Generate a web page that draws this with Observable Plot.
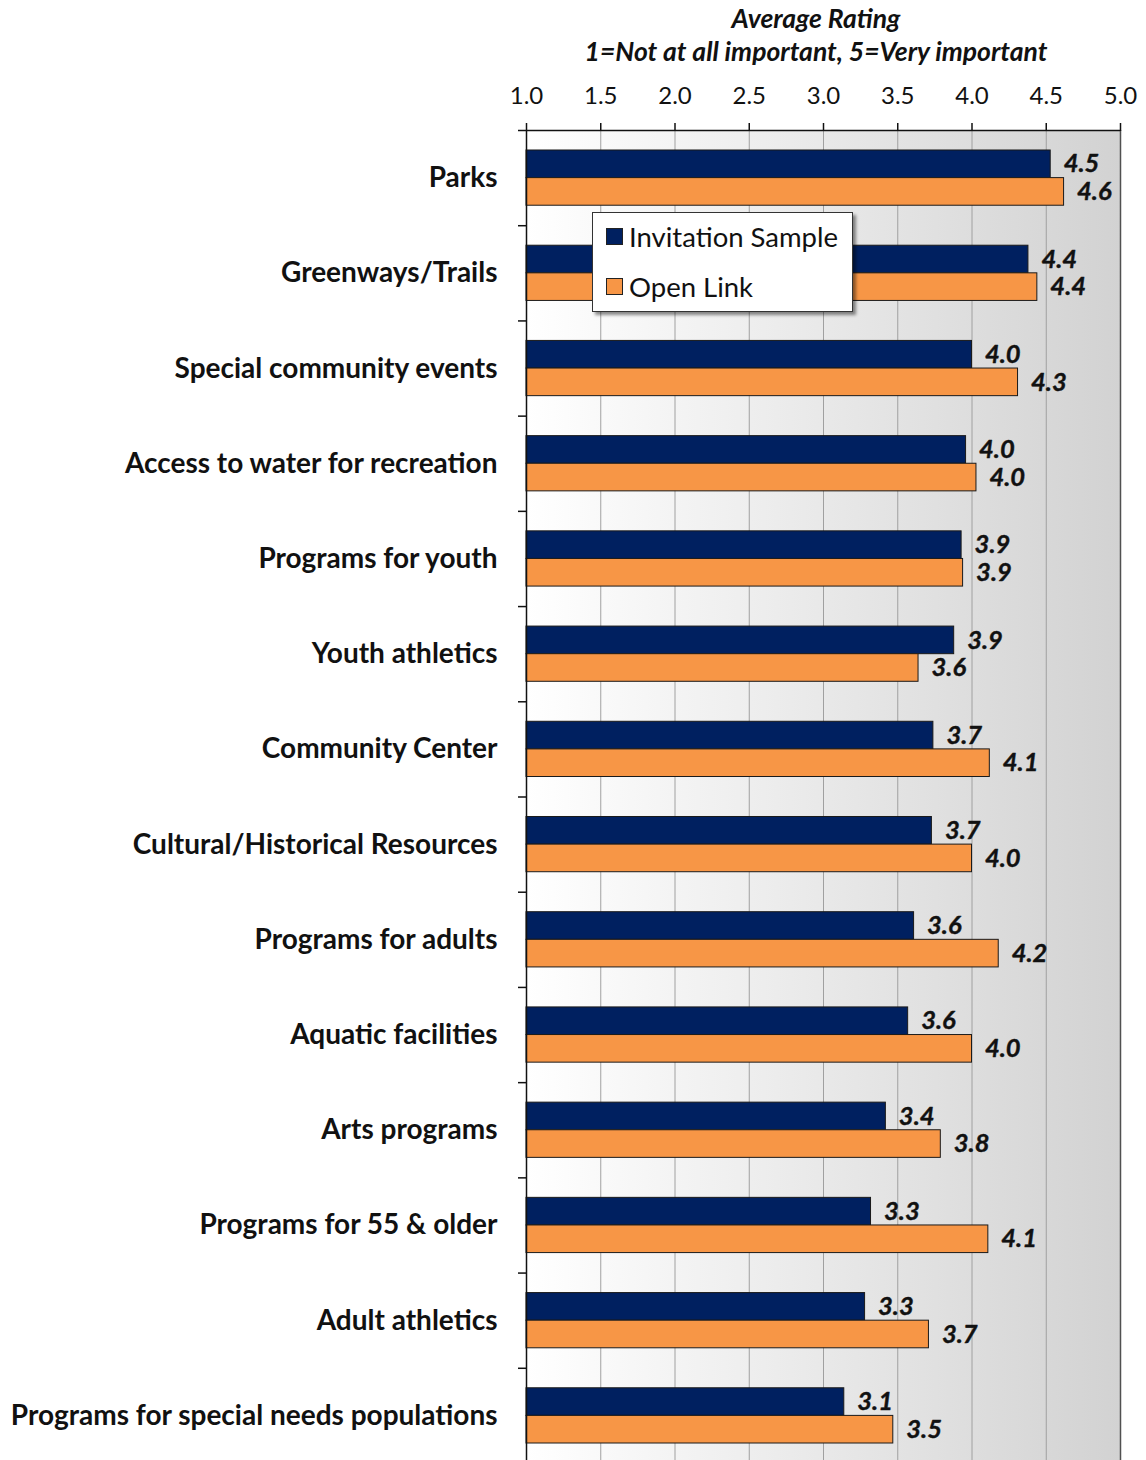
<!DOCTYPE html>
<html>
<head>
<meta charset="utf-8">
<script src="https://cdn.jsdelivr.net/npm/d3@7"></script>
<script src="https://cdn.jsdelivr.net/npm/@observablehq/plot@0.6"></script>
<style>
  html, body { margin: 0; padding: 0; background: #fff; }
  #wrap { position: relative; width: 1146px; height: 1460px; overflow: hidden; font-family: Lato, "Open Sans", sans-serif; }
  #title { position: absolute; left: 516px; width: 600px; top: 2px; text-align: center; font-weight: bold; font-style: italic; font-size: 26.5px; line-height: 33px; color: #111; }
  #legend { position: absolute; left: 592px; top: 212px; width: 259px; height: 98px; background: #fff; border: 1px solid #333; box-shadow: 3px 3px 3px rgba(0,0,0,0.45); font-size: 27.5px; color: #111; }
  .li { position: absolute; left: 13px; display: flex; align-items: center; }
  .sw { width: 17px; height: 17px; border: 1px solid #222; margin-right: 6px; box-sizing: border-box; }
</style>
</head>
<body>
<div id="wrap">
  <div id="chart"></div>
  <div id="title"></div>
  <div id="legend"></div>
</div>
<script>
const categories = [
  "Parks",
  "Greenways/Trails",
  "Special community events",
  "Access to water for recreation",
  "Programs for youth",
  "Youth athletics",
  "Community Center",
  "Cultural/Historical Resources",
  "Programs for adults",
  "Aquatic facilities",
  "Arts programs",
  "Programs for 55 & older",
  "Adult athletics",
  "Programs for special needs populations"
];
const invitationSample = [4.53, 4.38, 4.00, 3.96, 3.93, 3.88, 3.74, 3.73, 3.61, 3.57, 3.42, 3.32, 3.28, 3.14];
const openLink         = [4.62, 4.44, 4.31, 4.03, 3.94, 3.64, 4.12, 4.00, 4.18, 4.00, 3.79, 4.11, 3.71, 3.47];
const xTicks = [1.0, 1.5, 2.0, 2.5, 3.0, 3.5, 4.0, 4.5, 5.0];
const seriesNames = ["Invitation Sample", "Open Link"];
const seriesColors = ["#002060", "#F79646"];
const titleLines = ["Average Rating", "1=Not at all important, 5=Very important"];

const barH = 0.29;
const rows = [];
categories.forEach((c, i) => {
  rows.push({cat: c, i, series: seriesNames[0], value: invitationSample[i], y1: i - barH, y2: i});
  rows.push({cat: c, i, series: seriesNames[1], value: openLink[i], y1: i, y2: i + barH});
});
const boundaries = categories.map((_, i) => i - 0.5);

const font = "Lato, 'Open Sans', sans-serif";

const chart = Plot.plot({
  width: 1146,
  height: 1463,
  marginTop: 130,
  marginLeft: 526,
  marginRight: 26,
  marginBottom: 0,
  style: {fontFamily: font, color: "#111", background: "transparent", overflow: "visible"},
  x: {domain: [1, 5], axis: null},
  y: {domain: [-0.5, categories.length - 0.5], reverse: true, axis: null},
  color: {domain: seriesNames, range: seriesColors},
  marks: [
    Plot.frame({fill: "url(#bgGrad)", stroke: "none"}),
    Plot.ruleX(xTicks.filter(t => t > 1 && t < 5), {stroke: "#a0a0a0", strokeWidth: 1}),
    Plot.ruleX([5], {stroke: "#505050", strokeWidth: 1.5}),
    Plot.rect(rows, {x1: 1, x2: "value", y1: "y1", y2: "y2", fill: "series", stroke: "#1a1a1a", strokeWidth: 1}),
    Plot.text(rows, {
      x: "value", y: d => (d.y1 + d.y2) / 2, text: d => d.value.toFixed(1),
      dx: 13, textAnchor: "start", fontSize: 25.5, fontWeight: "bold", fontStyle: "italic", fill: "#111",
      stroke: "#111", strokeWidth: 0.4
    }),
    Plot.ruleX([1], {stroke: "#111", strokeWidth: 1.5}),
    Plot.ruleY([-0.5], {stroke: "#111", strokeWidth: 1.5}),
    Plot.axisX({anchor: "top", ticks: xTicks, tickSize: 8, tickPadding: 19, tickFormat: d => d.toFixed(1), fontSize: 24, label: null, stroke: "#111", strokeWidth: 1.5}),
    Plot.axisY({anchor: "left", ticks: boundaries, tickSize: 8, tickFormat: () => "", label: null, stroke: "#111", strokeWidth: 1.5}),
    Plot.axisY({anchor: "left", ticks: categories.map((_, i) => i), tickSize: 0, tickPadding: 29, tickFormat: i => categories[i], fontSize: 28, fontWeight: "bold", label: null})
  ]
});

// gradient definition for the plot background
const svg = chart.tagName.toLowerCase() === "svg" ? chart : chart.querySelector("svg");
const ns = "http://www.w3.org/2000/svg";
const defs = document.createElementNS(ns, "defs");
const grad = document.createElementNS(ns, "linearGradient");
grad.setAttribute("id", "bgGrad");
grad.setAttribute("x1", "0"); grad.setAttribute("x2", "1"); grad.setAttribute("y1", "0"); grad.setAttribute("y2", "0");
[["0%", "#ffffff"], ["100%", "#d2d2d2"]].forEach(([o, c]) => {
  const s = document.createElementNS(ns, "stop");
  s.setAttribute("offset", o); s.setAttribute("stop-color", c);
  grad.appendChild(s);
});
defs.appendChild(grad);
svg.insertBefore(defs, svg.firstChild);

document.getElementById("chart").appendChild(chart);

document.getElementById("title").innerHTML = titleLines.map(t => `<div>${t}</div>`).join("");

const legend = document.getElementById("legend");
seriesNames.forEach((name, k) => {
  const row = document.createElement("div");
  row.className = "li";
  row.style.top = (k === 0 ? 7 : 57) + "px";
  row.innerHTML = `<span class="sw" style="background:${seriesColors[k]}"></span><span>${name}</span>`;
  legend.appendChild(row);
});
</script>
</body>
</html>
